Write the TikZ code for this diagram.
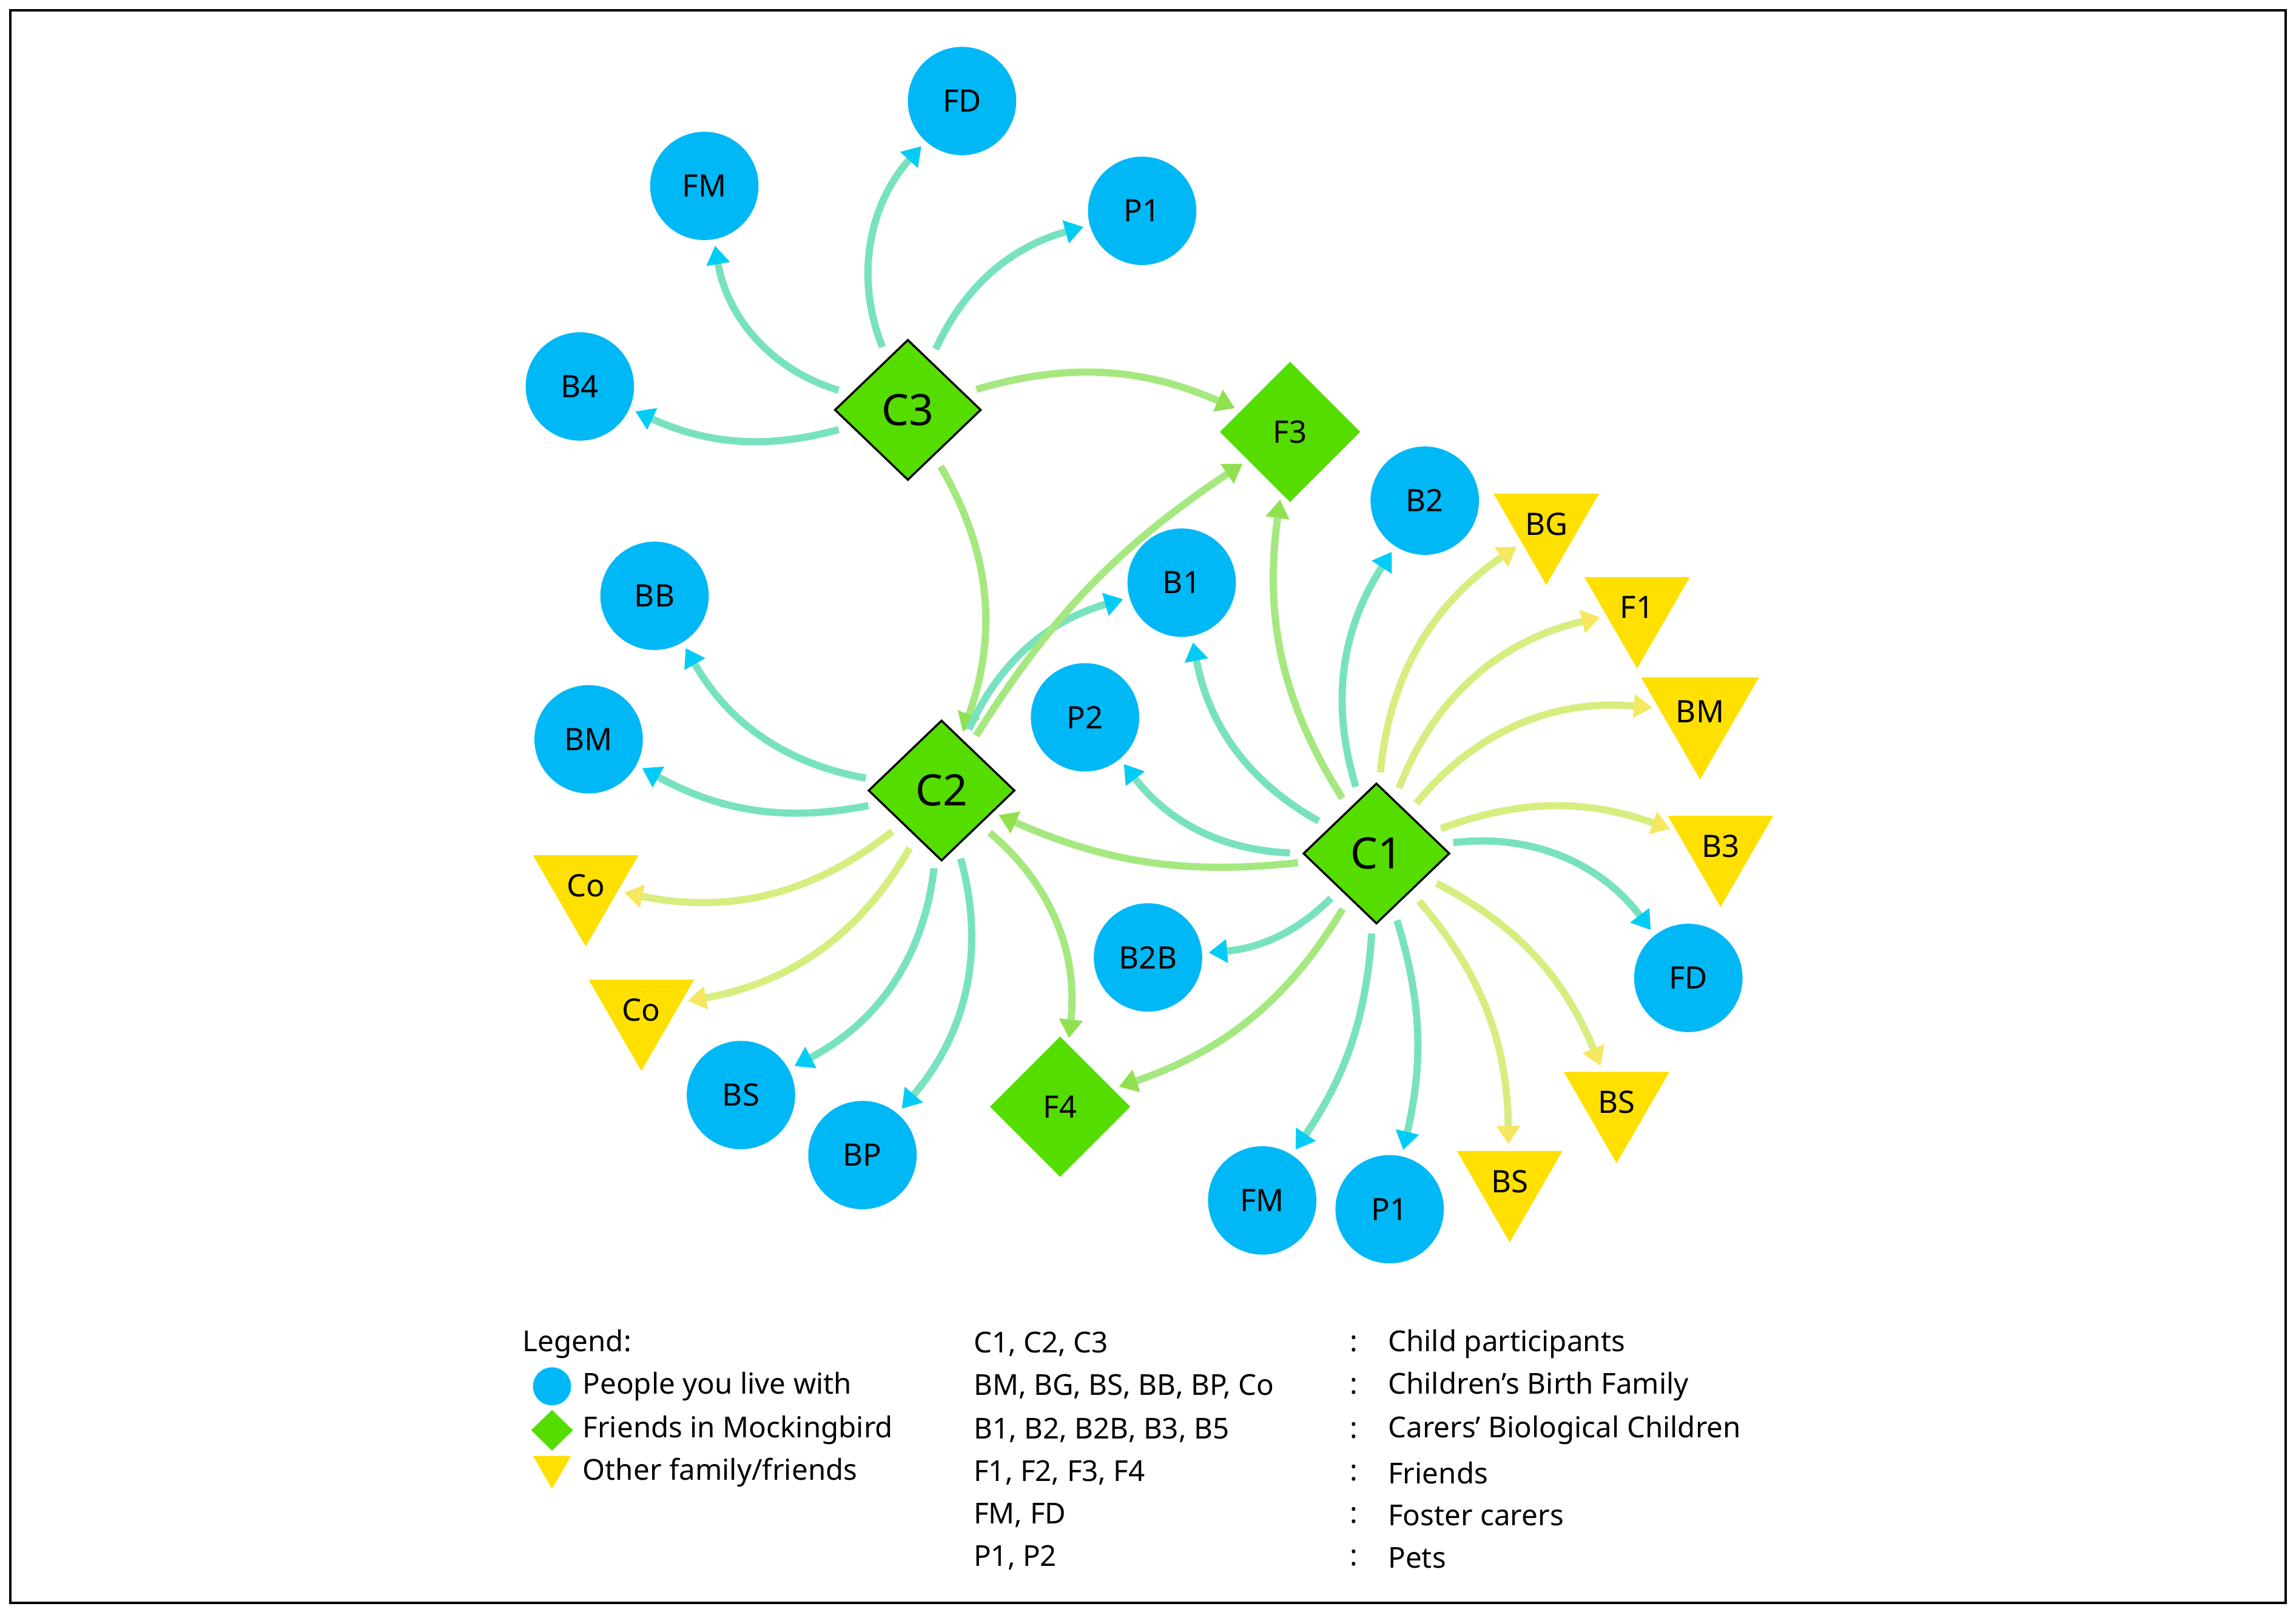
\documentclass[tikz,border=0pt]{standalone}
\usepackage{fontspec}
\setmainfont{Noto Sans}
\usetikzlibrary{shapes.geometric,arrows.meta}
\definecolor{cb}{HTML}{00B8F5}
\definecolor{cg}{HTML}{55DD00}
\definecolor{cy}{HTML}{FFE000}
\definecolor{ab}{HTML}{78E2C0}
\definecolor{ay}{HTML}{D6EE80}
\definecolor{ag}{HTML}{A6E880}
\definecolor{tb}{HTML}{00CCF5}
\definecolor{ty}{HTML}{F5E860}
\definecolor{tg}{HTML}{90E050}
\begin{document}
\begin{tikzpicture}[x=0.025cm,y=-0.025cm,
 pc/.style={circle,fill=cb,minimum size=1.85cm,inner sep=0,font=\fontsize{15}{15}\selectfont},
 cd/.style={diamond,fill=cg,draw=black,line width=1pt,minimum width=2.5cm,minimum height=2.4cm,inner sep=0,font=\fontsize{21}{21}\selectfont\bfseries},
 fd/.style={diamond,fill=cg,minimum width=2.4cm,minimum height=2.4cm,inner sep=0,font=\fontsize{15}{15}\selectfont},
 ot/.style={regular polygon,regular polygon sides=3,shape border rotate=180,fill=cy,minimum size=2.08cm,inner sep=0,font=\fontsize{15}{15}\selectfont},
 ar/.style={line width=3.5pt,bend left=32,shorten <=6pt,shorten >=3pt},
 tob/.style={ar,ab,-{Triangle[length=9pt,width=11pt,color=tb]}},
 toy/.style={ar,ay,-{Triangle[length=9pt,width=11pt,color=ty]}},
 tog/.style={ar,ag,-{Triangle[length=9pt,width=11pt,color=tg]}},
 lg/.style={anchor=west,font=\fontsize{14}{14}\selectfont}]
\useasboundingbox (0,0) rectangle (1568,1103);
\draw[line width=1.2pt] (7,7) rectangle (1561,1095);
% main nodes
\node[cd] (C3) at (620,280) {C3};
\node[cd] (C2) at (643,540) {C2};
\node[cd] (C1) at (940,583) {C1};
\node[fd] (F3) at (881,295) {F3};
\node[fd] (F4) at (724,756) {F4};
% C3 targets
\node[pc] (FDa) at (657,69) {FD};
\node[pc] (FMa) at (481,127) {FM};
\node[pc] (P1a) at (780,144) {P1};
\node[pc] (B4) at (396,264) {B4};
% C2 targets
\node[pc] (BB) at (447,407) {BB};
\node[pc] (BMa) at (402,505) {BM};
\node[ot] (Coa) at (400,605) {Co};
\node[ot] (Cob) at (438,690) {Co};
\node[pc] (BSa) at (506,748) {BS};
\node[pc] (BP) at (589,789) {BP};
\node[pc] (B1) at (807,398) {B1};
% C1 targets
\node[pc] (P2) at (741,490) {P2};
\node[pc] (B2) at (973,342) {B2};
\node[ot] (BG) at (1056,358) {BG};
\node[ot] (F1) at (1118,415) {F1};
\node[ot] (BMb) at (1161,486) {BM};
\node[ot] (B3) at (1175,578) {B3};
\node[pc] (FDb) at (1153,668) {FD};
\node[ot] (BSb) at (1104,753) {BS};
\node[ot] (BSc) at (1031,807) {BS};
\node[pc] (P1b) at (949,826) {P1};
\node[pc] (FMb) at (862,820) {FM};
\node[pc] (B2B) at (784,654) {B2B};
% C3 arrows
\draw[tob] (C3) to (FDa);
\draw[tob] (C3) to (FMa);
\draw[tob,bend left=25] (C3) to (P1a);
\draw[tob,bend left=20] (C3) to (B4);
\draw[tog,bend left=20] (C3) to (F3);
\draw[tog,bend left=25] (C3) to (C2);
% C2 arrows
\draw[tob,bend left=25] (C2) to (BB);
\draw[tob,bend left=20] (C2) to (BMa);
\draw[toy,bend left=25] (C2) to (Coa);
\draw[toy,bend left=25] (C2) to (Cob);
\draw[tob,bend left=28] (C2) to (BSa);
\draw[tob,bend left=28] (C2) to (BP);
\draw[tob,bend left=25] (C2) to (B1);
\draw[tog,bend left=12] (C2) to (F3);
\draw[tog,bend left=28] (C2) to (F4);
% C1 arrows
\draw[tob,bend left=25] (C1) to (P2);
\draw[tob,bend left=25] (C1) to (B1);
\draw[tog,bend left=20] (C1) to (F3);
\draw[tob,bend left=25] (C1) to (B2);
\draw[toy,bend left=25] (C1) to (BG);
\draw[toy,bend left=28] (C1) to (F1);
\draw[toy,bend left=28] (C1) to (BMb);
\draw[toy,bend left=20] (C1) to (B3);
\draw[tob,bend left=30] (C1) to (FDb);
\draw[toy,bend left=20] (C1) to (BSb);
\draw[toy,bend left=20] (C1) to (BSc);
\draw[tob,bend left=15] (C1) to (P1b);
\draw[tob,bend left=15] (C1) to (FMb);
\draw[tob,bend left=20] (C1) to (B2B);
\draw[tog,bend left=20] (C1) to (F4);
\draw[tog,bend left=15] (C1) to (C2);
% legend
\node[lg] (lgh) at (352,918) {Legend:};
\node[circle,fill=cb,minimum size=0.65cm,inner sep=0] (ls1) at (377,947) {};
\node[diamond,fill=cg,minimum width=0.72cm,minimum height=0.7cm,inner sep=0] (ls2) at (377,977) {};
\node[regular polygon,regular polygon sides=3,shape border rotate=180,fill=cy,minimum size=0.75cm,inner sep=0] (ls3) at (377,1002) {};
\node[lg] (lt1) at (393,947) {People you live with};
\node[lg] (lt2) at (393,977) {Friends in Mockingbird};
\node[lg] (lt3) at (393,1006) {Other family/friends};
\foreach \y/\a/\d [count=\i] in {918/{C1, C2, C3}/Child participants,
 947/{BM, BG, BS, BB, BP, Co}/Children’s Birth Family,
 977/{B1, B2, B2B, B3, B5}/Carers’ Biological Children,
 1006/{F1, F2, F3, F4}/Friends,
 1035/{FM, FD}/Foster carers,
 1064/{P1, P2}/Pets}{
 \node[lg] (ka\i) at (660,\y) {\a};
 \node[lg] (kc\i) at (917,\y) {:};
 \node[lg] (kd\i) at (943,\y) {\d};
}
\end{tikzpicture}
\end{document}
